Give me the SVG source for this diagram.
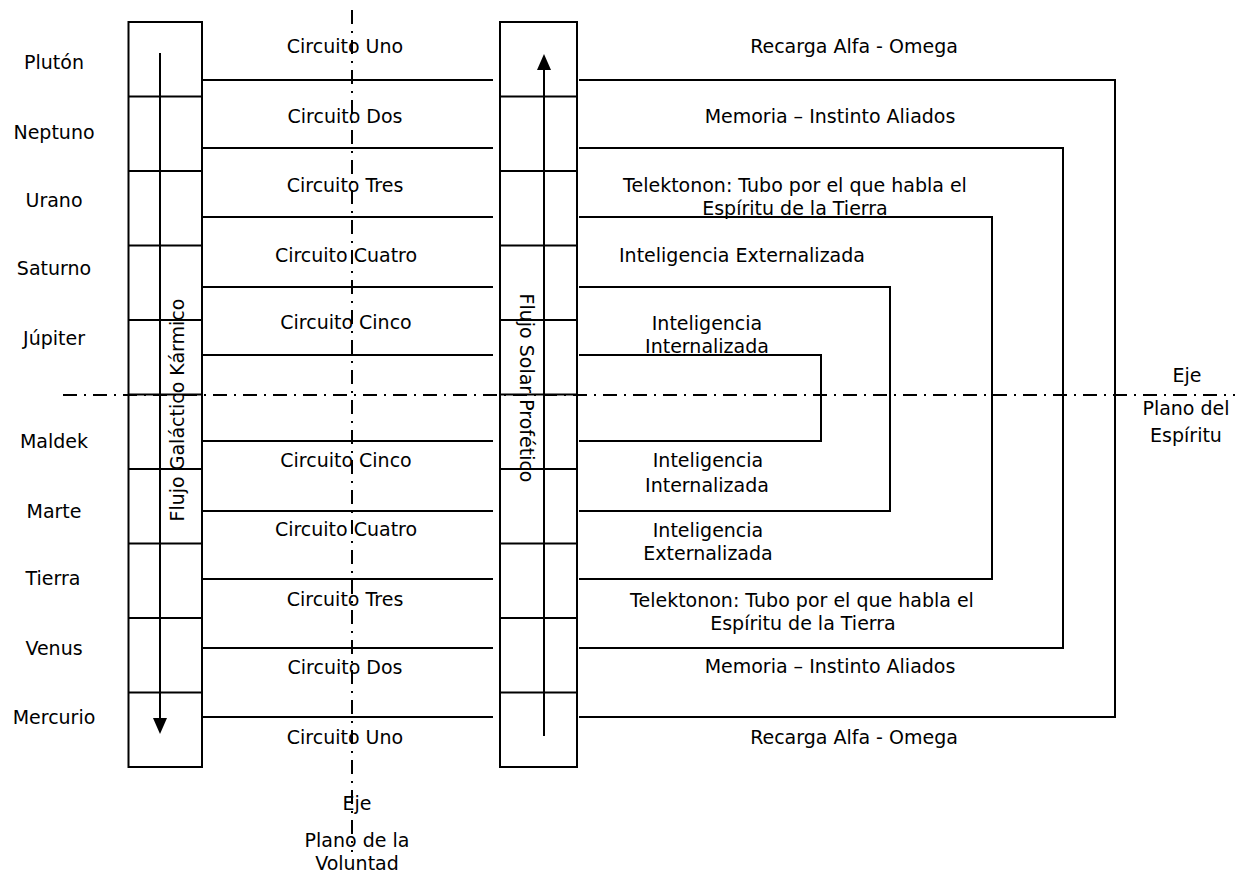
<svg xmlns="http://www.w3.org/2000/svg" width="1235" height="873" viewBox="0 0 1235 873">
  <style>
    text { font-family: "DejaVu Sans", "Liberation Sans", sans-serif; font-size: 19px; fill: #000; text-anchor: middle; }
    .ln { fill: none; stroke: #000; stroke-width: 2; }
    .axis { fill: none; stroke: #000; stroke-width: 2; stroke-dasharray: 14 7 2 7; }
    .arrow { fill: #000; stroke: none; }
  </style>
  <rect width="1235" height="873" fill="#fff"/>

  <!-- Axes -->
  <g id="axes">
    <line class="axis" x1="63" y1="395" x2="1235" y2="395"/>
    <line class="axis" x1="352" y1="10" x2="352" y2="852"/>
  </g>

  <!-- Left column: Flujo Galáctico Kármico -->
  <g id="col-karmico">
    <rect class="ln" x="128.5" y="22" width="73.5" height="745"/>
    <path class="ln" d="M128.5,96.5 H202 M128.5,171 H202 M128.5,245.5 H202 M128.5,320 H202 M128.5,394.5 H202 M128.5,469 H202 M128.5,543.5 H202 M128.5,618 H202 M128.5,692.5 H202"/>
    <line class="ln" x1="160" y1="53" x2="160" y2="722"/>
    <polygon class="arrow" points="153,718 167,718 160,734"/>
    <text transform="translate(184,410) rotate(-90)">Flujo Galáctico Kármico</text>
  </g>

  <!-- Right column: Flujo Solar Profético -->
  <g id="col-solar">
    <rect class="ln" x="500" y="22" width="77" height="745"/>
    <path class="ln" d="M500,96.5 H577 M500,171 H577 M500,245.5 H577 M500,320 H577 M500,394.5 H577 M500,469 H577 M500,543.5 H577 M500,618 H577 M500,692.5 H577"/>
    <line class="ln" x1="544" y1="67" x2="544" y2="736"/>
    <polygon class="arrow" points="537,70 551,70 544,54"/>
    <text transform="translate(520,388) rotate(90)">Flujo Solar Profético</text>
  </g>

  <!-- Connectors -->
  <g id="connectors">
    <path class="ln" d="M202,80 H493 M202,148 H493 M202,217 H493 M202,287 H493 M202,355 H493 M202,441 H493 M202,511 H493 M202,579 H493 M202,648 H493 M202,717 H493"/>
    <path class="ln" d="M579,80 H1115 V717 H579"/>
    <path class="ln" d="M579,148 H1063 V648 H579"/>
    <path class="ln" d="M579,217 H992 V579 H579"/>
    <path class="ln" d="M579,287 H890 V511 H579"/>
    <path class="ln" d="M579,355 H821 V441 H579"/>
  </g>

  <!-- Planet labels -->
  <g id="planets">
    <text x="54" y="69">Plutón</text>
    <text x="54" y="139">Neptuno</text>
    <text x="54" y="207">Urano</text>
    <text x="54" y="275">Saturno</text>
    <text x="54" y="345">Júpiter</text>
    <text x="54" y="448">Maldek</text>
    <text x="54" y="518">Marte</text>
    <text x="53" y="585">Tierra</text>
    <text x="54" y="655">Venus</text>
    <text x="54" y="724">Mercurio</text>
  </g>

  <!-- Circuit labels -->
  <g id="circuits">
    <text x="345" y="53">Circuito Uno</text>
    <text x="345" y="123">Circuito Dos</text>
    <text x="345" y="192">Circuito Tres</text>
    <text x="346" y="262">Circuito Cuatro</text>
    <text x="346" y="329">Circuito Cinco</text>
    <text x="346" y="467">Circuito Cinco</text>
    <text x="346" y="536">Circuito Cuatro</text>
    <text x="345" y="606">Circuito Tres</text>
    <text x="345" y="674">Circuito Dos</text>
    <text x="345" y="744">Circuito Uno</text>
  </g>

  <!-- Right-side labels -->
  <g id="functions">
    <text x="854" y="53">Recarga Alfa - Omega</text>
    <text x="830" y="123">Memoria – Instinto Aliados</text>
    <text x="795" y="192">Telektonon: Tubo por el que habla el</text>
    <text x="795" y="215">Espíritu de la Tierra</text>
    <text x="742" y="262">Inteligencia Externalizada</text>
    <text x="707" y="330">Inteligencia</text>
    <text x="707" y="353">Internalizada</text>
    <text x="708" y="467">Inteligencia</text>
    <text x="707" y="492">Internalizada</text>
    <text x="708" y="537">Inteligencia</text>
    <text x="708" y="560">Externalizada</text>
    <text x="802" y="607">Telektonon: Tubo por el que habla el</text>
    <text x="803" y="630">Espíritu de la Tierra</text>
    <text x="830" y="673">Memoria – Instinto Aliados</text>
    <text x="854" y="744">Recarga Alfa - Omega</text>
  </g>

  <!-- Axis labels -->
  <g id="axis-labels">
    <text x="1187" y="382">Eje</text>
    <text x="1186" y="415">Plano del</text>
    <text x="1186" y="442">Espíritu</text>
    <text x="357" y="810">Eje</text>
    <text x="357" y="847">Plano de la</text>
    <text x="357" y="870">Voluntad</text>
  </g>
</svg>
